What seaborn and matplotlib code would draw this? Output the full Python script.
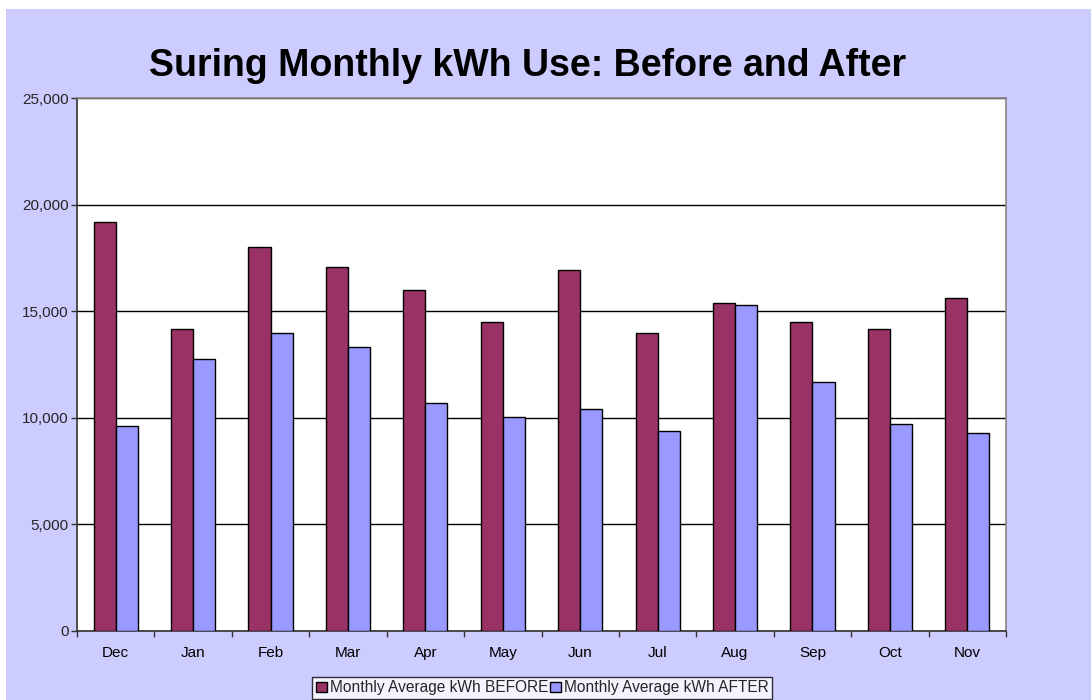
import numpy as np
import pandas as pd
import matplotlib
matplotlib.use("Agg")
import matplotlib.pyplot as plt
from matplotlib.patches import Rectangle
from matplotlib.ticker import FuncFormatter, FixedLocator
import seaborn as sns

months = ["Dec", "Jan", "Feb", "Mar", "Apr", "May", "Jun", "Jul", "Aug", "Sep", "Oct", "Nov"]
before_kwh = [19200, 14150, 18000, 17050, 16000, 14500, 16950, 14000, 15400, 14500, 14150, 15600]
after_kwh = [9600, 12750, 14000, 13300, 10700, 10050, 10400, 9400, 15300, 11700, 9700, 9300]
series_names = ["Monthly Average kWh BEFORE", "Monthly Average kWh AFTER"]
colors = ["#993366", "#9999FF"]

df = pd.DataFrame({
    "month": months * 2,
    "kwh": before_kwh + after_kwh,
    "series": [series_names[0]] * len(months) + [series_names[1]] * len(months),
})

sns.set_style("white")
plt.rcParams["font.family"] = ["Liberation Sans", "DejaVu Sans"]

fig = plt.figure(figsize=(10.91, 7), dpi=100)
fig.patch.set_facecolor("white")
# lilac chart area (offset a few pixels from the top-left corner)
fig.patches.append(Rectangle((6 / 1091, 0), 1, 691 / 700, transform=fig.transFigure,
                             facecolor="#CCCCFF", edgecolor="none", zorder=-10))

ax = fig.add_axes([77 / 1091, 69 / 700, (1006 - 77) / 1091, (631 - 98) / 700])
ax.set_facecolor("white")

sns.barplot(data=df, x="month", y="kwh", hue="series", palette=colors,
            width=0.57, edgecolor="black", linewidth=1.0, saturation=1, ax=ax, zorder=3)

ax.set_ylim(0, 25000)
ax.set_xlim(-0.5, len(months) - 0.5)
ax.set_yticks(np.arange(0, 25001, 5000))
ax.yaxis.set_major_formatter(FuncFormatter(lambda v, p: f"{int(v):,}"))
ax.grid(axis="y", color="black", linewidth=1.0, zorder=0)
ax.set_axisbelow(True)

# x ticks at category boundaries, labels at centres
ax.set_xticks(np.arange(len(months)))
ax.set_xticklabels(months)
ax.tick_params(axis="x", which="major", length=0, pad=11, labelsize=11, colors="black")
ax.xaxis.set_minor_locator(FixedLocator(np.arange(-0.5, len(months), 1)))
ax.tick_params(axis="x", which="minor", length=4, direction="out", width=1, color="#333333", bottom=True)
ax.tick_params(axis="y", length=4, direction="out", width=1, color="#333333", left=True, labelsize=11, pad=2)

ax.set_xlabel("")
ax.set_ylabel("")

for side in ["left", "bottom"]:
    ax.spines[side].set_color("#333333")
    ax.spines[side].set_linewidth(1.2)
for side in ["top", "right"]:
    ax.spines[side].set_color("#888888")
    ax.spines[side].set_linewidth(1.2)

ax.get_legend().remove()
handles = [Rectangle((0, 0), 1, 1, facecolor=c, edgecolor="black", linewidth=1) for c in colors]
leg = fig.legend(handles, series_names, loc="lower center", bbox_to_anchor=(0.497, 0.001),
                 ncol=2, frameon=True, fontsize=11.2, handlelength=0.7, handleheight=0.7,
                 handletextpad=0.2, columnspacing=0.1, borderpad=0.25, borderaxespad=0)
leg.get_frame().set_edgecolor("black")
leg.get_frame().set_facecolor("white")
leg.get_frame().set_linewidth(1.0)
leg.get_frame().set_boxstyle("square", pad=0)

fig.text(0.484, 0.906, "Suring Monthly kWh Use: Before and After", ha="center", va="center",
         fontsize=27, fontweight="bold", color="black")

fig.savefig("out.png", dpi=100, facecolor=fig.get_facecolor())
